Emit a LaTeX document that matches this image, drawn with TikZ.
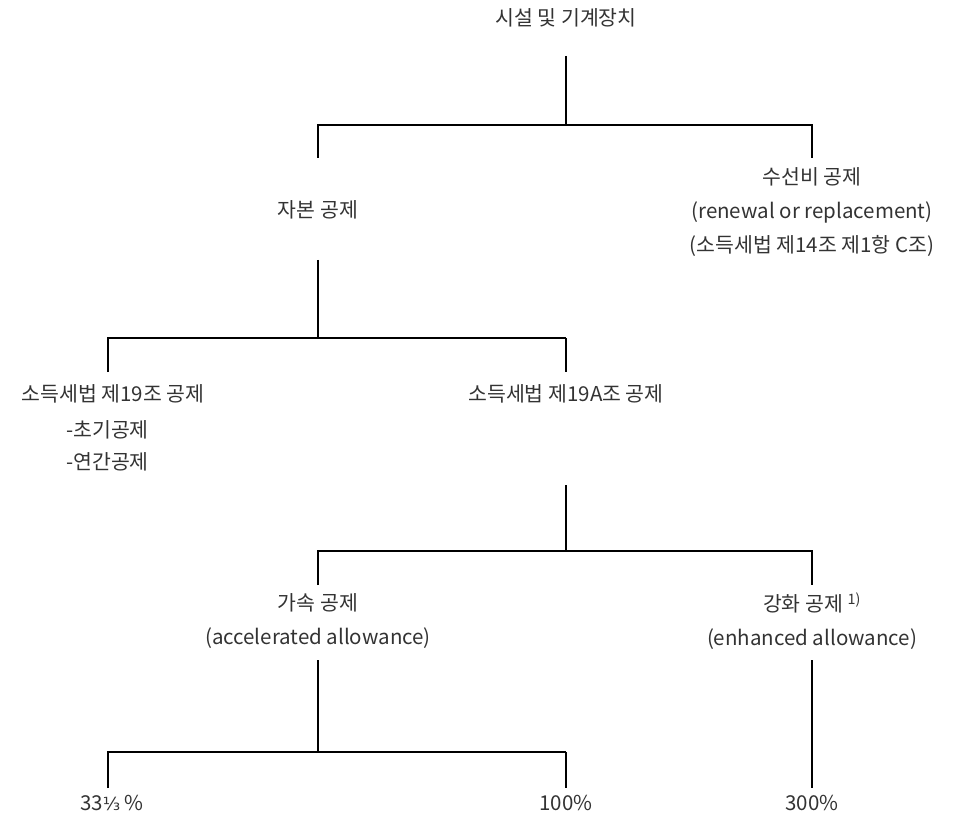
\documentclass[tikz,border=0pt]{standalone}
\usepackage{fontspec}
\setmainfont{Noto Sans CJK KR}
\newfontfamily\symfont{DejaVu Sans}
\begin{document}
\begin{tikzpicture}[x=1pt,y=-1pt,
  lbl/.style={text=black!80, font=\fontsize{20.5}{34}\selectfont, inner sep=0pt, align=center},
  conn/.style={draw=black, line width=1.3pt},
  thick conn/.style={draw=black, line width=2.2pt}]
\useasboundingbox (0,0) rectangle (958,818);
% texts
\node[lbl] (top) at (566,18) {시설 및 기계장치};
\node[lbl] (capital) at (318,210) {자본 공제};
\node[lbl, align=center] (repair) at (812,212) {수선비 공제\\(renewal or replacement)\\(소득세법 제14조 제1항 C조)};
\node[lbl] (s19) at (113,394) {소득세법 제19조 공제};
\node[lbl, align=left, anchor=west, font=\fontsize{20.5}{32}\selectfont] (s19list) at (66,446) {-초기공제\\-연간공제};
\node[lbl] (s19a) at (566,394) {소득세법 제19A조 공제};
\node[lbl] (accel) at (318,621) {가속 공제\\(accelerated allowance)};
\node[lbl] (enh) at (812,621) {강화 공제 \textsuperscript{1)}\\(enhanced allowance)};
\node[lbl] (p33) at (112,803) {33{\symfont\fontsize{18}{20}\selectfont ⅓} \%};
\node[lbl] (p100) at (566,803) {100\%};
\node[lbl] (p300) at (812,803) {300\%};
% junction coordinates
\coordinate (j1) at (566,125);
\coordinate (j1s) at (566,56);
\coordinate (j1l) at (318,125);
\coordinate (j1r) at (812,125);
\coordinate (c1) at (318,158);
\coordinate (c2) at (812,158);
\coordinate (j2s) at (318,260);
\coordinate (j2) at (318,338);
\coordinate (j2l) at (108,338);
\coordinate (j2r) at (566,338);
\coordinate (c3) at (108,372);
\coordinate (c4) at (566,372);
\coordinate (j3s) at (566,485);
\coordinate (j3) at (566,551);
\coordinate (j3l) at (318,551);
\coordinate (j3r) at (812,551);
\coordinate (c5) at (318,585);
\coordinate (c6) at (812,585);
\coordinate (j4s) at (318,660);
\coordinate (j4) at (318,752);
\coordinate (j4l) at (108,752);
\coordinate (j4r) at (566,752);
\coordinate (c7) at (108,788);
\coordinate (c8) at (566,788);
\coordinate (j5s) at (812,660);
\coordinate (c9) at (812,788);
% connectors
\draw[thick conn] (j1s) -- (j1);
\draw[conn] (c1) -- (j1l) -- (j1r) -- (c2);
\draw[conn] (j2s) -- (j2);
\draw[conn] (c3) -- (j2l) -- (j2r);
\draw[thick conn] (j2r) -- (c4);
\draw[thick conn] (j3s) -- (j3);
\draw[conn] (c5) -- (j3l) -- (j3r) -- (c6);
\draw[conn] (j4s) -- (j4);
\draw[conn] (c7) -- (j4l) -- (j4r);
\draw[thick conn] (j4r) -- (c8);
\draw[conn] (j5s) -- (c9);
\end{tikzpicture}
\end{document}
